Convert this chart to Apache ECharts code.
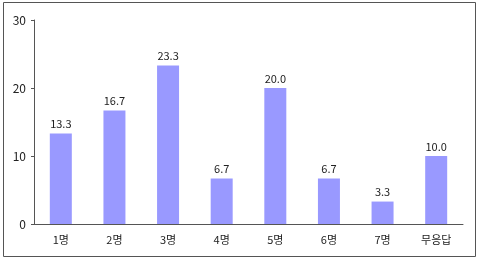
<!DOCTYPE html>
<html><head><meta charset="utf-8">
<script src="https://cdn.jsdelivr.net/npm/echarts@6/dist/echarts.min.js"></script>
<style>html,body{margin:0;padding:0;background:#fff}#c{width:480px;height:262px}</style>
</head><body><div id="c"></div>
<script>
const categories = ['1명','2명','3명','4명','5명','6명','7명','무응답'];
const values = [13.3, 16.7, 23.3, 6.7, 20.0, 6.7, 3.3, 10.0];
const yTicks = [0, 10, 20, 30];

const chart = echarts.init(document.getElementById('c'));
const font = '"Noto Sans CJK KR", "DejaVu Sans", sans-serif';
chart.setOption({
  animation: false,
  graphic: [{type:'rect', shape:{x:3.5,y:2.5,width:472,height:254}, style:{fill:'none', stroke:'#555', lineWidth:1}}],
  grid: {left: 34, right: 17, top: 20, bottom: 38},
  xAxis: {
    type: 'category', data: categories,
    axisLine: {lineStyle: {color: '#555'}},
    axisTick: {inside: true, length: 3, lineStyle:{color:'#555'}},
    axisLabel: {color: '#222', fontSize: 11, fontFamily: font, margin: 10}
  },
  yAxis: {
    type: 'value', min: yTicks[0], max: yTicks[yTicks.length-1], interval: 10,
    axisLine: {show: true, lineStyle: {color: '#555'}},
    axisTick: {show: true, length: 3, lineStyle:{color:'#555'}},
    splitLine: {show: false},
    axisLabel: {color: '#222', fontSize: 12, fontFamily: font, margin: 8}
  },
  series: [{
    type: 'bar', data: values, barWidth: 22,
    itemStyle: {color: '#9999ff'},
    label: {show: true, position: 'top', color: '#222', fontSize: 11, fontFamily: font, distance: 4,
      formatter: p => p.value.toFixed(1)}
  }]
});
</script></body></html>
